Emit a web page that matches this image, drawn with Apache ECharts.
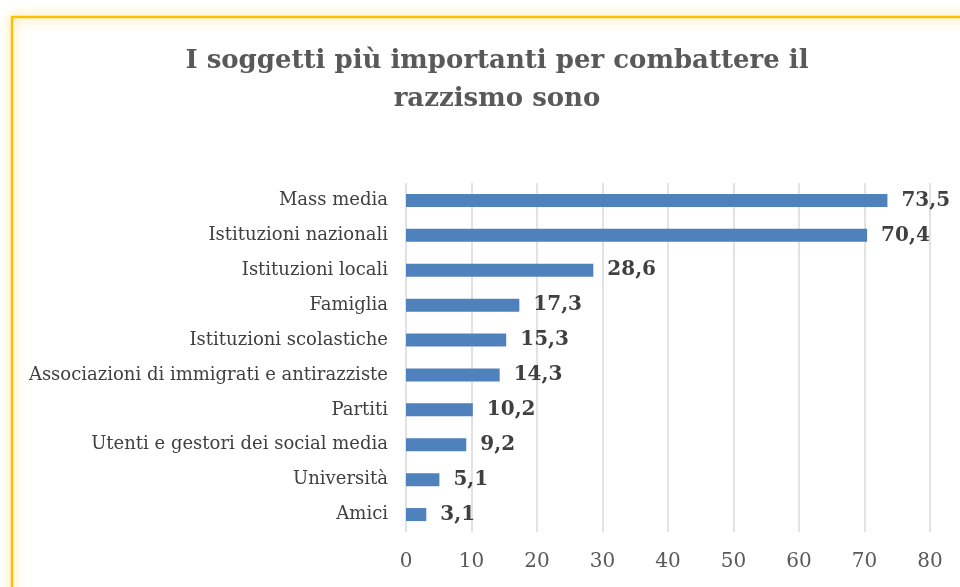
<!DOCTYPE html>
<html>
<head>
<meta charset="utf-8">
<script src="https://cdn.jsdelivr.net/npm/echarts@6/dist/echarts.min.js"></script>
<style>
html,body{margin:0;padding:0;background:#fff;}
#chart{width:960px;height:587px;}
</style>
</head>
<body>
<div id="chart"></div>
<script>
const titleText = "I soggetti più importanti per combattere il\nrazzismo sono";
const categories = [
  "Mass media",
  "Istituzioni nazionali",
  "Istituzioni locali",
  "Famiglia",
  "Istituzioni scolastiche",
  "Associazioni di immigrati e antirazziste",
  "Partiti",
  "Utenti e gestori dei social media",
  "Università",
  "Amici"
];
const values = [73.5, 70.4, 28.6, 17.3, 15.3, 14.3, 10.2, 9.2, 5.1, 3.1];
const axisMin = 0, axisMax = 80, axisStep = 10;

const font = "'DejaVu Serif', 'Liberation Serif', serif";
const chart = echarts.init(document.getElementById('chart'), null, {renderer: 'canvas'});
chart.setOption({
  backgroundColor: '#ffffff',
  animation: false,
  title: {
    text: titleText,
    left: 492,
    textAlign: 'center',
    top: 37,
    textStyle: {
      fontFamily: font, fontWeight: 'bold', fontSize: 26, color: '#595959', lineHeight: 38
    }
  },
  graphic: [{
    type: 'rect',
    shape: {x: 12, y: 17, width: 1000, height: 700},
    style: {fill: 'none', stroke: '#FFC000', lineWidth: 2.5, shadowBlur: 12, shadowColor: 'rgba(255,192,0,0.75)'},
    z: 100, silent: true
  }],
  grid: {left: 406, right: 30, top: 183, bottom: 55, containLabel: false},
  xAxis: {
    type: 'value', min: axisMin, max: axisMax, interval: axisStep,
    axisLine: {show: false}, axisTick: {show: false},
    splitLine: {show: true, lineStyle: {color: '#D9D9D9', width: 1.5}},
    axisLabel: {fontFamily: font, fontSize: 20, color: '#595959', margin: 20}
  },
  yAxis: {
    type: 'category', data: categories, inverse: true,
    axisLine: {show: false}, axisTick: {show: false},
    axisLabel: {fontFamily: font, fontSize: 18, color: '#404040', margin: 18}
  },
  series: [{
    type: 'bar', data: values, barWidth: 13,
    itemStyle: {color: '#4F81BD'},
    label: {
      show: true, position: 'right', distance: 14,
      fontFamily: font, fontWeight: 'bold', fontSize: 20, color: '#404040',
      formatter: p => p.value.toFixed(1).replace('.', ',')
    }
  }]
});
</script>
</body>
</html>
